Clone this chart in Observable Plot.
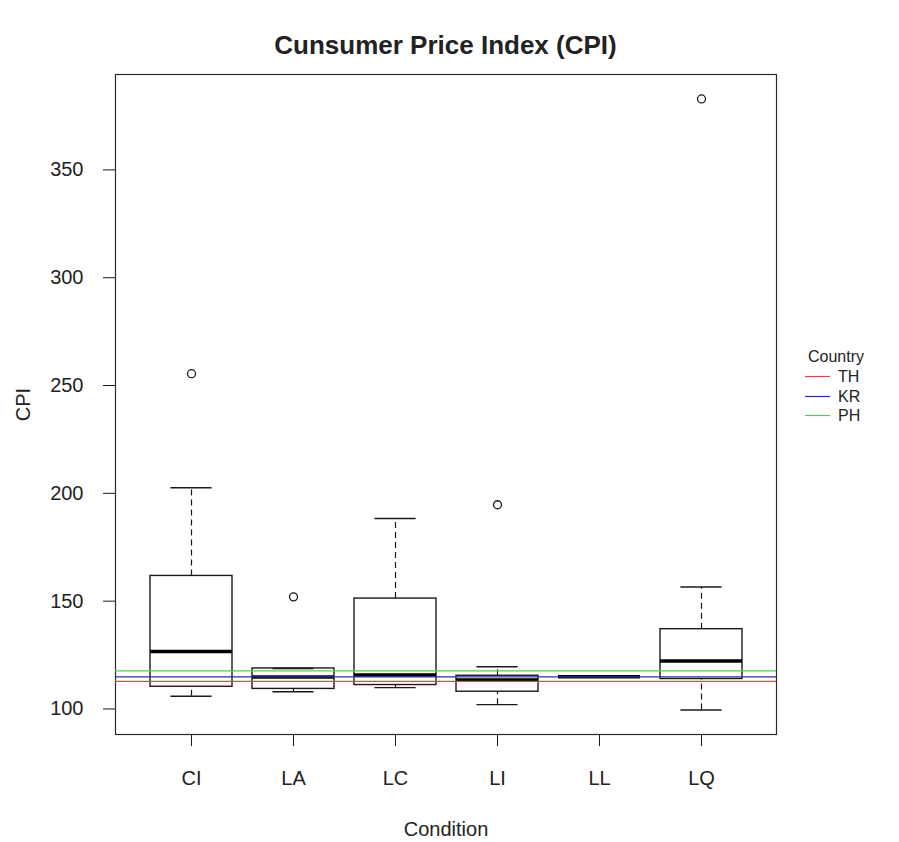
<!DOCTYPE html>
<html>
<head>
<meta charset="utf-8">
<script src="https://cdn.jsdelivr.net/npm/d3@7"></script>
<script src="https://cdn.jsdelivr.net/npm/@observablehq/plot@0.6"></script>
<style>
  body { margin: 0; background: #fff; font-family: "Liberation Sans", Arial, sans-serif; color: #222; }
  #wrap { position: relative; width: 899px; height: 842px; }
  #title { box-sizing: border-box; height: 60px; padding-top: 31px; margin-left: 115px; width: 661px;
           text-align: center; font-weight: bold; font-size: 26px; line-height: 28px; }
  #legend { position: absolute; left: 805px; top: 347px; font-size: 16px; line-height: 19.5px; }
  #legend .head { padding-left: 3px; line-height: 20px; }
  #legend .row { display: flex; align-items: center; }
  #legend svg { display: block; margin-right: 8px; }
</style>
</head>
<body>
<div id="wrap">
  <div id="title">Cunsumer Price Index (CPI)</div>
  <div id="chart"></div>
  <div id="legend"></div>
</div>
<script>
// Box-and-whisker summaries per condition
const conditions   = ["CI", "LA", "LC", "LI", "LL", "LQ"];
const whiskerLow   = [105.9, 108.0, 109.9, 102.0, 115.0,  99.5];
const quartile1    = [110.3, 109.3, 111.1, 108.0, 115.0, 113.9];
const medians      = [126.7, 114.8, 115.7, 113.4, 115.0, 122.2];
const quartile3    = [161.7, 118.8, 151.2, 115.4, 115.0, 137.0];
const whiskerHigh  = [202.6, 118.8, 188.3, 119.6, 115.0, 156.6];

// Outlying points
const outlierCondition = ["CI", "LA", "LI", "LQ"];
const outlierValue     = [255.5, 152.0, 194.7, 382.9];

// Reference CPI level per country
const countries     = ["TH", "KR", "PH"];
const countryCPI    = [112.8, 114.9, 117.7];
const countryColors = ["#d94a4a", "#2e2e9e", "#47d947"];

const yTicks = [100, 150, 200, 250, 300, 350];

const boxes = conditions.map((c, i) => ({
  condition: c, lo: whiskerLow[i], q1: quartile1[i], med: medians[i], q3: quartile3[i], hi: whiskerHigh[i]
}));
const outliers = outlierCondition.map((c, i) => ({condition: c, value: outlierValue[i]}));
const refLines = countries.map((c, i) => ({country: c, cpi: countryCPI[i]}));

// y range padded by 4% on each side of the data extent
const yMin = d3.min([...whiskerLow, ...outlierValue]);
const yMax = d3.max([...whiskerHigh, ...outlierValue]);
const pad = (yMax - yMin) * 0.04;

const ink = "#1a1a1a";
const capInset = 20.4;

const chart = Plot.plot({
  width: 899,
  height: 782,
  marginTop: 14,
  marginBottom: 108,
  marginLeft: 115,
  marginRight: 123,
  style: {fontFamily: '"Liberation Sans", Arial, sans-serif', fontSize: "20px", color: "#222", background: "#fff"},
  x: {type: "band", domain: conditions, paddingInner: 0.2, paddingOuter: 0.34},
  y: {domain: [yMin - pad, yMax + pad]},
  color: {domain: countries, range: countryColors},
  marks: [
    Plot.frame({stroke: "#2a2a2a", strokeWidth: 1.2}),
    // dashed whiskers
    Plot.ruleX(boxes, {x: "condition", y1: "q3", y2: "hi", stroke: ink, strokeWidth: 1.2, strokeDasharray: "6,4"}),
    Plot.ruleX(boxes, {x: "condition", y1: "lo", y2: "q1", stroke: ink, strokeWidth: 1.2, strokeDasharray: "6,4"}),
    // whisker caps
    Plot.tickY(boxes, {x: "condition", y: "hi", stroke: ink, strokeWidth: 1.4, insetLeft: capInset, insetRight: capInset}),
    Plot.tickY(boxes, {x: "condition", y: "lo", stroke: ink, strokeWidth: 1.4, insetLeft: capInset, insetRight: capInset}),
    // boxes
    Plot.barY(boxes, {x: "condition", y1: "q1", y2: "q3", fill: "none", stroke: ink, strokeWidth: 1.4}),
    // medians
    Plot.tickY(boxes, {x: "condition", y: "med", stroke: "#000", strokeWidth: 3.5}),
    // outliers
    Plot.dot(outliers, {x: "condition", y: "value", r: 4, stroke: ink, strokeWidth: 1.3, fill: "none"}),
    // country reference lines
    Plot.ruleY(refLines, {y: "cpi", stroke: "country", strokeWidth: 1.2}),
    Plot.axisY({ticks: yTicks, tickSize: 12, tickPadding: 20, stroke: ink, fill: "#222",
                label: "CPI", labelAnchor: "center", labelArrow: "none", labelOffset: 100}),
    Plot.axisX({tickSize: 12, tickPadding: 24, stroke: ink, fill: "#222",
                label: "Condition", labelAnchor: "center", labelArrow: "none", labelOffset: 101})
  ]
});
document.getElementById("chart").appendChild(chart);

// Legend for the country reference lines
const legend = document.getElementById("legend");
const head = document.createElement("div");
head.className = "head";
head.textContent = "Country";
legend.appendChild(head);
countries.forEach((c, i) => {
  const row = document.createElement("div");
  row.className = "row";
  row.innerHTML = `<svg width="25" height="19"><line x1="0" x2="25" y1="9.5" y2="9.5" stroke="${countryColors[i]}" stroke-width="1.2"/></svg><span>${c}</span>`;
  legend.appendChild(row);
});
</script>
</body>
</html>
